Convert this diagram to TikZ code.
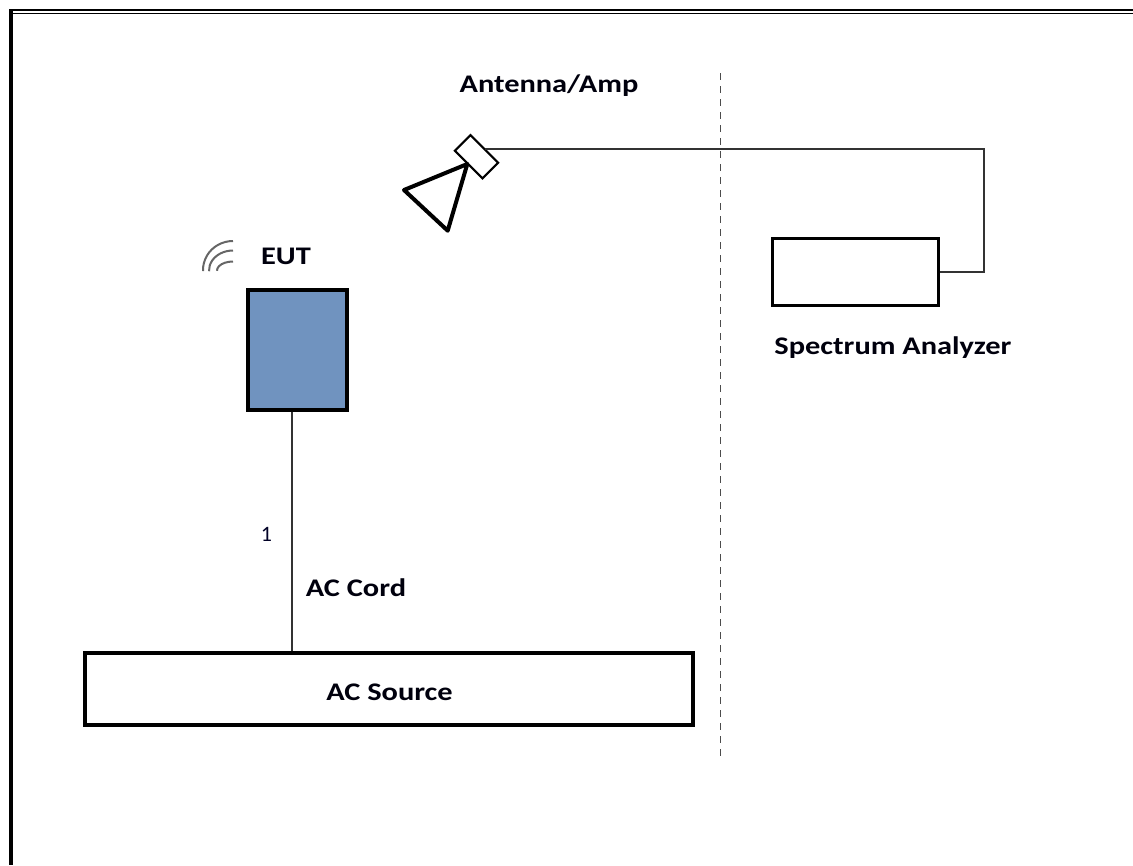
\documentclass[tikz,border=0pt]{standalone}
\usepackage{fontspec}
\setmainfont{Carlito}
\newfontfamily\widefont[FakeStretch=1.2]{Carlito}
\usetikzlibrary{calc}
\definecolor{eutblue}{HTML}{7093BF}
\tikzset{
 x=0.75pt,y=-0.75pt,
 thinline/.style={draw=black!80,line width=1pt},
 thickbox/.style={draw=black,line width=3pt,inner sep=0pt,anchor=north west},
 label/.style={font=\widefont\bfseries\fontsize{19}{20}\selectfont,inner sep=0pt,text=black!95!blue},
 wave/.style={draw=black!60,line width=1.5pt},
}
\begin{document}
\begin{tikzpicture}
\useasboundingbox (0,0) rectangle (1133,865);
% frame
\fill[black] (9,9) rectangle (1133,11);
\fill[black] (12,12.5) rectangle (1133,13.5);
\fill[black] (9,9) rectangle (12.5,865);
% dashed divider
\coordinate (dashtop) at (720.5,73);
\coordinate (dashbot) at (720.5,757);
\draw[draw=black!70,line width=1.2pt,dash pattern=on 5.6pt off 4.15pt] (dashtop) -- (dashbot);
% boxes
\node[thickbox,fill=eutblue,minimum width=99pt*0.75,minimum height=120pt*0.75] (eut) at (246,287.5) {};
\node[thickbox,fill=white,minimum width=608pt*0.75,minimum height=72pt*0.75] (source) at (82.5,651) {};
\node[thickbox,line width=2.6pt,fill=white,minimum width=166pt*0.75,minimum height=67pt*0.75] (sa) at (770.5,237) {};
% connectors
\coordinate (bend1) at (984,272);
\coordinate (bend2) at (984,149);
\node[draw=black,line width=1.6pt,fill=white,minimum width=39pt*0.75,minimum height=22pt*0.75,inner sep=0pt,rotate=-45] (amp) at (476.5,156.7) {};
\draw[thinline] (sa.east |- bend1) -- (bend1) -- (bend2) -- (bend2 -| amp.north);
\draw[thinline] (eut.south -| 292,0) -- (source.north -| 292,0);
% antenna
\coordinate (hornapex) at (467.3,164);
\draw[black,line width=3pt,line join=round] (hornapex) -- (404,190) -- (447.7,230.7) -- cycle;
% wireless symbol
\draw[wave] (233,241) arc[start angle=270,end angle=178,x radius=30,y radius=29];
\draw[wave] (233,250.5) arc[start angle=270,end angle=178,x radius=24,y radius=20];
\draw[wave] (233,261.5) arc[start angle=270,end angle=178,x radius=16,y radius=9];
% labels
\node[label] (l1) at (549,86) {Antenna/Amp};
\node[label] (l2) at (286,256) {EUT};
\node[label] (l3) at (893,348) {Spectrum Analyzer};
\node[label] (l4) at (356,588) {AC Cord};
\node[label] (l5) at (389.5,692) {AC Source};
\node[inner sep=0pt,font=\fontsize{16.5}{18}\selectfont,text=black!85!blue] (l6) at (266.5,534) {1};
\end{tikzpicture}
\end{document}
